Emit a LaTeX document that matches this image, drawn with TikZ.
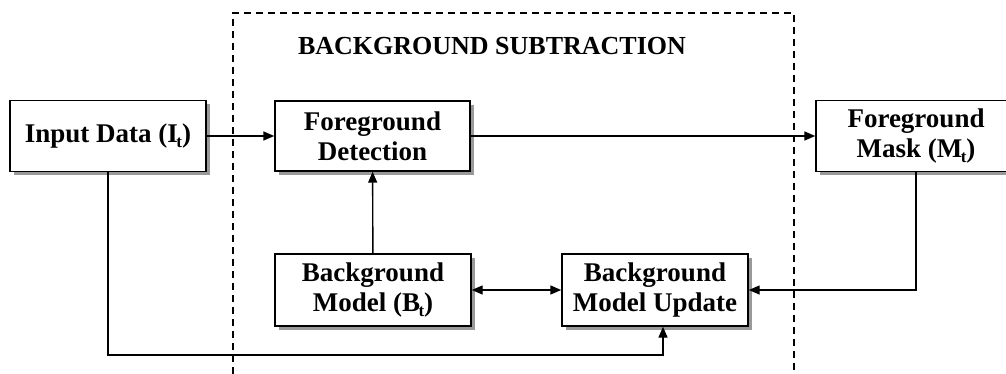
\documentclass[tikz,border=0pt]{standalone}
\usepackage{fontspec}
\setmainfont{Liberation Serif}
\usetikzlibrary{arrows.meta,shadows,calc}

% lowered, tucked-in subscript letter
\newcommand{\lowsub}[1]{\kern-1.5pt\raisebox{-5pt}{\fontsize{17}{17}\selectfont #1}}

\tikzset{
  blk/.style={draw, line width=1.4pt, fill=white, align=center,
    font=\fontsize{27}{30}\selectfont\bfseries, inner sep=0pt,
    drop shadow={shadow xshift=4pt, shadow yshift=-4pt, fill=black!40, opacity=1}},
  arr/.style={line width=1.4pt, -{Triangle[length=11pt,width=9pt]}},
  darr/.style={line width=1.4pt, {Triangle[length=11pt,width=9pt]}-{Triangle[length=11pt,width=9pt]}},
  frame/.style={line width=1.2pt, dash pattern=on 7pt off 5pt},
}

\begin{document}
\begin{tikzpicture}[x=1pt,y=-1pt]
\useasboundingbox[fill=white] (0,0) rectangle (1006,374);

% dashed enclosure of the subtraction stage (open at the bottom)
\draw[frame] (233,374) -- (233,13) -- (794,13) -- (794,374);
\node[font=\fontsize{26}{30}\selectfont\bfseries] (title) at (492,46) {BACKGROUND SUBTRACTION};

% blocks
\node[blk, minimum width=196pt, minimum height=71pt] (inp)  at (108,136) {Input Data (I\lowsub{t})};
\node[blk, minimum width=195pt, minimum height=70pt] (fd)   at (372.5,136) {Foreground\\Detection};
\node[blk, minimum width=200pt, minimum height=71pt] (mask) at (916,136) {Foreground\\Mask (M\lowsub{t})};
\node[blk, minimum width=196pt, minimum height=72pt] (bm)   at (373,290) {Background\\Model (B\lowsub{t})};
\node[blk, minimum width=186pt, minimum height=72pt] (bmu)  at (655,290) {Background\\Model Update};

% connectors
\draw[arr] (inp) -- (fd);
\draw[arr] (fd) -- (mask);
\draw[arr] (bm) -- (fd);
\draw[darr] (bm) -- (bmu);
\coordinate (low) at (663,355);
\draw[arr] (inp.south) |- (low) -- (low |- bmu.south);
\draw[arr] (mask.south) |- (bmu.east);
\end{tikzpicture}
\end{document}
